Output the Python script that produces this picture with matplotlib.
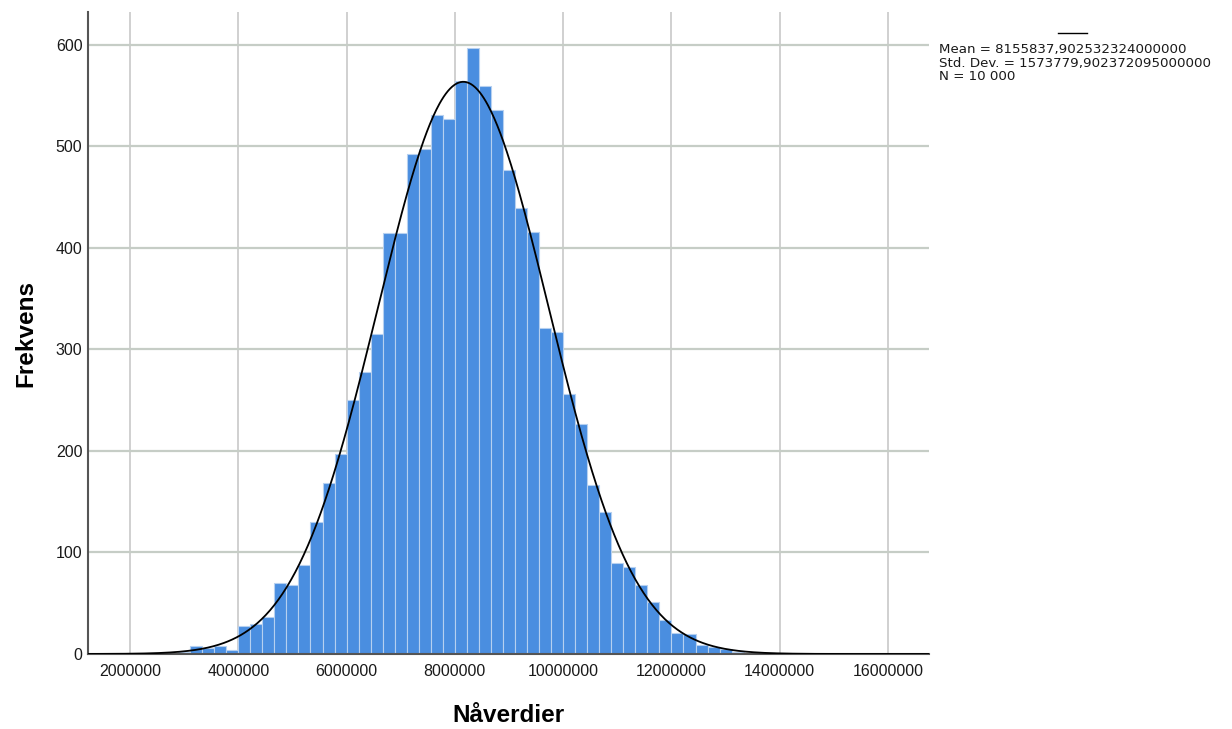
import numpy as np
import matplotlib.pyplot as plt

plt.rcParams['font.family'] = ['Liberation Sans', 'DejaVu Sans']

# histogram bins (first edge + width) and the count in each bin
first_edge = 4000000 - 7 * 2000000 / 9
bin_width = 2000000 / 9
counts = [1, 1, 2, 8, 6, 8, 4,
          28, 30, 36, 70, 68, 88, 130,
          168, 197, 250, 278, 315, 414, 414,
          492, 497, 531, 527, 564, 597, 559,
          536, 476, 439, 415, 321, 317, 256, 226, 166,
          140, 90, 86, 68, 51, 33, 21, 20, 9, 7, 5, 2, 1, 1]

# summary statistics
mean = 8155837.902532324
std_dev = 1573779.902372095
n_total = 10000

x_ticks = [2000000, 4000000, 6000000, 8000000, 10000000, 12000000, 14000000, 16000000]
y_ticks = [0, 100, 200, 300, 400, 500, 600]

fig = plt.figure(figsize=(12.32, 7.29), dpi=100)
ax = fig.add_axes([0.0714, 0.1029, 0.6826, 0.8806])

xlo, xhi = 1224000, 16755000
ax.set_xlim(xlo, xhi)
ax.set_ylim(0, 632)

# grid
for xt in x_ticks:
    ax.axvline(xt, color='#c8c8c8', lw=1.2, zorder=0)
for yt in y_ticks[1:]:
    ax.axhline(yt, color='#c6cdc6', lw=1.6, zorder=0)

# bars
lefts = first_edge + bin_width * np.arange(len(counts))
ax.bar(lefts, counts, width=bin_width, align='edge', color='#4a8ee0',
       edgecolor='#b6d0f0', linewidth=0.8, zorder=2)

# fitted normal curve
xs = np.linspace(xlo, xhi, 800)
ys = n_total * bin_width / (std_dev * np.sqrt(2 * np.pi)) * np.exp(-0.5 * ((xs - mean) / std_dev) ** 2)
ax.plot(xs, ys, color='black', lw=1.3, zorder=3)

ax.set_xticks(x_ticks)
ax.set_xticklabels([str(v) for v in x_ticks])
ax.set_yticks(y_ticks)
ax.tick_params(length=0, labelsize=11.5, colors='#1a1a1a')
ax.tick_params(axis='y', pad=4)
ax.tick_params(axis='x', pad=7)

for side in ['top', 'right']:
    ax.spines[side].set_visible(False)
for side in ['left', 'bottom']:
    ax.spines[side].set_color('#555555')
    ax.spines[side].set_linewidth(1.5)

ax.set_xlabel('Nåverdier', fontsize=17.5, fontweight='bold', labelpad=18)
ax.set_ylabel('Frekvens', fontsize=17.5, fontweight='bold', labelpad=13)

# legend block on the right
fig.lines.append(plt.Line2D([1058 / 1232, 1087 / 1232], [1 - 33 / 729, 1 - 33 / 729],
                            color='black', lw=1.0, transform=fig.transFigure))
legend_lines = ['Mean = 8155837,902532324000000',
                'Std. Dev. = 1573779,902372095000000',
                'N = 10 000']
for i, txt in enumerate(legend_lines):
    fig.text(939 / 1232, 1 - (50 + 13.5 * i) / 729, txt, fontsize=9.6,
             family='DejaVu Sans', va='center', ha='left', color='#1a1a1a')

fig.savefig('out.png', dpi=100)
